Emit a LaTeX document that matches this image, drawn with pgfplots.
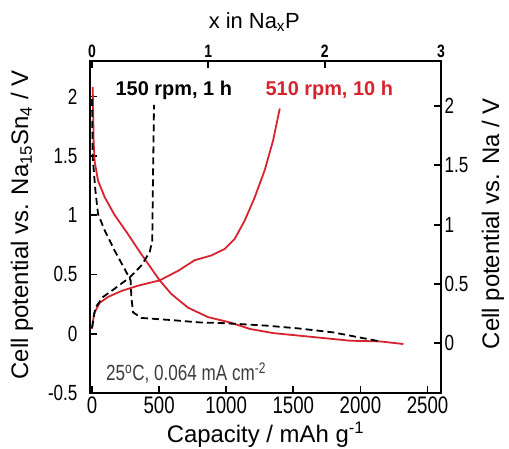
\documentclass[border=0pt]{standalone}
\usepackage{fontspec}
\setmainfont{Liberation Sans}
\newfontfamily\narrowfont[FakeStretch=0.78]{Liberation Sans}
\usepackage{pgfplots}
\pgfplotsset{compat=1.18}
\definecolor{curvered}{HTML}{D6232E}
\definecolor{notegray}{HTML}{3C3C3C}
\pgfplotsset{frame/.style={scale only axis,width=351bp,height=332bp,
  axis line style={line width=2.6bp},tick style={line width=1.8bp,black},
  major tick length=7bp,tick align=inside,
  /pgf/number format/assume math mode=true,
  /pgf/number format/1000 sep={},
  tick label style={font=\fontsize{22}{24}\selectfont\narrowfont}}}

\begin{document}
\begin{tikzpicture}
\begin{axis}[frame,name=main,
  xmin=-15,xmax=2600,ymin=-0.5,ymax=2.3,
  xtick={0,500,...,2500},ytick={-0.5,0,...,2},
  yticklabels={-0.5,0,0.5,1,1.5,2},
  xtick pos=left,ytick pos=left,
  xticklabel style={font=\fontsize{24}{26}\selectfont\narrowfont},
  yticklabel style={xshift=-9bp},
  xlabel={Capacity / mAh g\textsuperscript{-1}},
  ylabel={Cell potential vs. Na\textsubscript{15}Sn\textsubscript{4} / V},
  every axis x label/.style={at={(axis description cs:0.5,-0.127)},anchor=center,font=\fontsize{24}{26}\selectfont},
  every axis y label/.style={at={(axis description cs:-0.194,0.506)},anchor=center,rotate=90,font=\fontsize{24}{26}\selectfont}]
% 510 rpm, 10 h discharge
\addplot[curvered,line width=1.8bp] coordinates {(5,2.08) (7,1.97) (12,1.62) (20,1.45) (45,1.29) (95,1.15) (169,1.0) (268,0.84) (368,0.67) (442,0.55) (504,0.45) (591,0.335) (715,0.22) (864,0.14) (1028,0.095) (1177,0.04) (1350,0.005) (1550,-0.017) (1923,-0.059) (2146,-0.065) (2320,-0.087)};
% 510 rpm, 10 h charge
\addplot[curvered,line width=1.8bp] coordinates {(0,0.04) (15,0.17) (57,0.26) (119,0.31) (218,0.36) (343,0.405) (504,0.45) (641,0.53) (765,0.62) (889,0.66) (989,0.715) (1063,0.80) (1138,0.955) (1212,1.15) (1287,1.38) (1349,1.63) (1399,1.90)};
% 150 rpm, 1 h discharge
\addplot[black,line width=1.8bp,dash pattern=on 7bp off 4bp] coordinates {(0,1.98) (5,1.49) (25,1.21) (45,1.01) (95,0.87) (169,0.70) (243,0.546) (288,0.45) (293,0.31) (306,0.18) (368,0.133) (591,0.115) (805,0.095) (964,0.09) (1302,0.068) (1535,0.045) (1798,0.011) (2146,-0.065)};
% 150 rpm, 1 h charge
\addplot[black,line width=1.8bp,dash pattern=on 7bp off 4bp] coordinates {(0,0.05) (25,0.22) (82,0.31) (169,0.38) (281,0.475) (368,0.575) (430,0.69) (449,0.785) (454,1.29) (462,1.93)};
\node[anchor=west,font=\fontsize{20}{22}\selectfont\bfseries] at (axis cs:150,2.05) {150 rpm, 1 h};
\node[anchor=west,font=\fontsize{20}{22}\selectfont\bfseries,text=curvered] at (axis cs:1267,2.05) {510 rpm, 10 h};
\node[anchor=west,inner sep=0pt,font=\fontsize{22}{24}\selectfont\narrowfont,text=notegray] at (axis cs:104,-0.33) {25\textsuperscript{o}C, 0.064 mA cm\textsuperscript{-2}};
\end{axis}
\begin{axis}[frame,
  xmin=-0.0173,xmax=3,ymin=-0.42,ymax=2.38,
  xtick={0,1,2,3},ytick={0,0.5,...,2},
  yticklabels={0,0.5,1,1.5,2},
  xtick pos=right,ytick pos=right,
  xticklabel pos=right,yticklabel pos=right,
  xlabel={x in Na\textsubscript{x}P},
  ylabel={Cell potential vs. Na / V},
  every axis x label/.style={at={(axis description cs:0.468,1.117)},anchor=center,font=\fontsize{22}{24}\selectfont},
  every axis y label/.style={at={(axis description cs:1.148,0.51)},anchor=center,rotate=90,font=\fontsize{24}{26}\selectfont},
  xticklabel style={font=\fontsize{18}{20}\selectfont\narrowfont\bfseries}]
\end{axis}
\pgfresetboundingbox
\path (main.south west) ++(-90bp,-56bp) rectangle (main.north east);
\path (main.north east) ++(68bp,61bp);
\end{tikzpicture}
\end{document}
